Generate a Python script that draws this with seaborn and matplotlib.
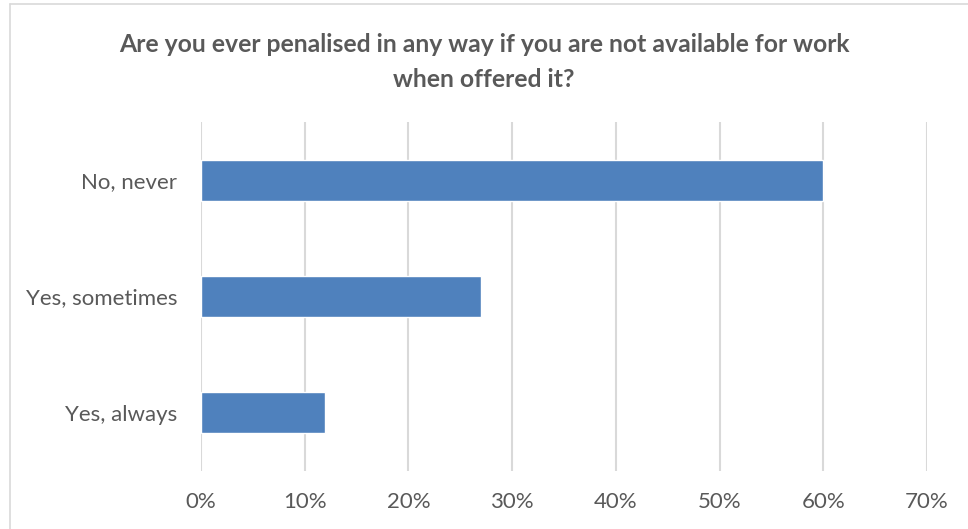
import matplotlib
matplotlib.use("Agg")
import matplotlib.pyplot as plt
from matplotlib.lines import Line2D
from matplotlib.ticker import PercentFormatter
import seaborn as sns
import pandas as pd

categories = ["No, never", "Yes, sometimes", "Yes, always"]
shares = [60, 27, 12]
x_ticks = [0, 10, 20, 30, 40, 50, 60, 70]

title = "Are you ever penalised in any way if you are not available for work\nwhen offered it?"

sns.set_theme(style="white")
plt.rcParams["font.family"] = ["Lato", "DejaVu Sans"]

df = pd.DataFrame({"answer": categories, "share": shares})

fig = plt.figure(figsize=(9.68, 5.29), dpi=100)
ax = fig.add_axes([201 / 968, 1 - 471 / 529, (927 - 201) / 968, (471 - 122) / 529])

sns.barplot(data=df, x="share", y="answer", order=categories, color="#4F81BD",
            saturation=1, width=0.35, ax=ax, zorder=3)

ax.set_xlim(0, 70)
ax.set_xticks(x_ticks)
ax.xaxis.set_major_formatter(PercentFormatter(decimals=0))
ax.grid(axis="x", color="#D9D9D9", linewidth=1.5, zorder=0)
ax.grid(axis="y", visible=False)
for s in ax.spines.values():
    s.set_visible(False)
ax.set_xlabel("")
ax.set_ylabel("")
ax.tick_params(axis="both", length=0, labelsize=16, labelcolor="#595959")
ax.tick_params(axis="x", pad=15)
ax.tick_params(axis="y", pad=17)

fig.text(0.5, 1 - 62 / 529, title, ha="center", va="center", fontsize=17.8,
         fontweight="bold", color="#595959", linespacing=1.6)

# chart-area frame: only the left and top edges fall inside the image
left, top = 9.5 / 968, 1 - 3.5 / 529
fig.lines.append(Line2D([left, left], [0, top], transform=fig.transFigure,
                        color="#D9D9D9", linewidth=1.2))
fig.lines.append(Line2D([left, 1], [top, top], transform=fig.transFigure,
                        color="#D9D9D9", linewidth=1.2))

fig.savefig("out.png", dpi=100)
